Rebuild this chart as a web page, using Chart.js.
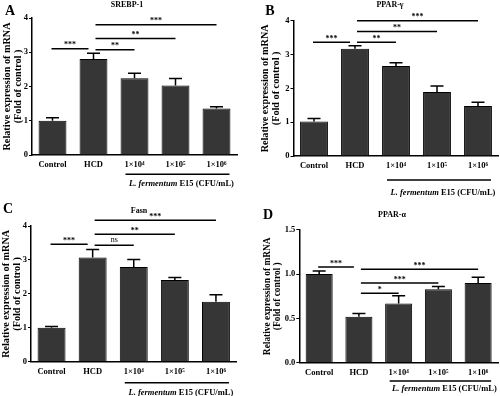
<!DOCTYPE html>
<html>
<head>
<meta charset="utf-8">
<script src="https://cdn.jsdelivr.net/npm/chart.js@4.4.1/dist/chart.umd.min.js"></script>
<style>
  body { margin: 0; background: #fff; width: 500px; height: 396px; position: relative; overflow: hidden; }
  canvas { position: absolute; }
</style>
</head>
<body>
<canvas id="chartA" width="250" height="198" style="left:0;top:0"></canvas>
<canvas id="chartB" width="250" height="198" style="left:250px;top:0"></canvas>
<canvas id="chartC" width="250" height="206" style="left:0;top:190px"></canvas>
<canvas id="chartD" width="250" height="206" style="left:250px;top:190px"></canvas>
<script>
const groups = ['Control', 'HCD', '1×10⁴', '1×10⁵', '1×10⁶'];

// SREBP-1
const srebpMean = [1.0, 2.8, 2.24, 2.03, 1.36];
const srebpErr = [0.09, 0.17, 0.15, 0.2, 0.05];
const srebpSig = [[0, 1, 3.1, '***'], [1, 2, 3.07, '**'], [1, 3, 3.4, '**'], [1, 4, 3.8, '***']];

// PPAR-gamma
const ppargMean = [1.02, 3.17, 2.66, 1.89, 1.48];
const ppargErr = [0.09, 0.09, 0.1, 0.18, 0.11];
const ppargSig = [[0, 1, 3.36, '***'], [1, 2, 3.36, '**'], [1, 3, 3.68, '**'], [1, 4, 4.0, '***']];

// Fasn
const fasnMean = [1.0, 3.07, 2.79, 2.41, 1.77];
const fasnErr = [0.04, 0.24, 0.22, 0.07, 0.2];
const fasnSig = [[0, 1, 3.46, '***'], [1, 2, 3.43, 'ns'], [1, 3, 3.76, '**'], [1, 4, 4.17, '***']];

// PPAR-alpha
const pparaMean = [1.0, 0.52, 0.667, 0.83, 0.9];
const pparaErr = [0.035, 0.035, 0.088, 0.03, 0.065];
const pparaSig = [[0, 1, 1.08, '***'], [1, 2, 0.785, '*'], [1, 3, 0.9, '***'], [1, 4, 1.056, '***']];

const serif = "'Liberation Serif', 'Times New Roman', serif";
const groupText = ['L. fermentum', ' E15 (CFU/mL)'];

// error bars, significance lines, letters, titles, group label
const extras = {
  id: 'extras',
  afterDatasetsDraw(chart, args, p) {
    const ctx = chart.ctx;
    const meta = chart.getDatasetMeta(0);
    const ys = chart.scales.y;
    const ds = chart.data.datasets[0];
    ctx.save();
    ctx.strokeStyle = '#000';
    ctx.fillStyle = '#000';
    ctx.lineWidth = 1.5;
    // error bars (upper only)
    meta.data.forEach((bar, i) => {
      const y0 = ys.getPixelForValue(ds.data[i]);
      const y1 = ys.getPixelForValue(ds.data[i] + p.err[i]);
      ctx.beginPath();
      ctx.moveTo(bar.x, y0);
      ctx.lineTo(bar.x, y1);
      ctx.moveTo(bar.x - 6.5, y1);
      ctx.lineTo(bar.x + 6.5, y1);
      ctx.stroke();
    });
    // significance lines
    ctx.textAlign = 'center';
    ctx.textBaseline = 'middle';
    p.sig.forEach(s => {
      let x0 = meta.data[s[0]].x + (s[0] === 1 ? 2 : -1);
      let x1 = meta.data[s[1]].x - (s[1] === 1 ? 5 : 0);
      const y = ys.getPixelForValue(s[2]);
      ctx.beginPath();
      ctx.moveTo(x0, y);
      ctx.lineTo(x1, y);
      ctx.stroke();
      ctx.font = (s[3] === 'ns' ? '' : 'bold ') + '8px ' + serif;
      ctx.fillText(s[3], (x0 + x1) / 2, y - (s[3] === 'ns' ? 5 : 3.5));
    });
    // group underline
    const gx0 = meta.data[2].x - 9;
    const gx1 = meta.data[4].x + 13;
    ctx.beginPath();
    ctx.moveTo(gx0, p.groupY);
    ctx.lineTo(gx1, p.groupY);
    ctx.stroke();
    ctx.font = 'italic bold 8.5px ' + serif;
    const w0 = ctx.measureText(groupText[0]).width;
    ctx.font = 'bold 8.5px ' + serif;
    const w1 = ctx.measureText(groupText[1]).width;
    let lx = (gx0 + gx1) / 2 + 4 - (w0 + w1) / 2;
    ctx.textAlign = 'left';
    ctx.font = 'italic bold 8.5px ' + serif;
    ctx.fillText(groupText[0], lx, p.labelY);
    ctx.font = 'bold 8.5px ' + serif;
    ctx.fillText(groupText[1], lx + w0, p.labelY);
    // panel letter and title
    ctx.textAlign = 'center';
    ctx.font = 'bold 14px ' + serif;
    ctx.fillText(p.letter, p.letterX, p.letterY);
    ctx.font = 'bold 8px ' + serif;
    ctx.fillText(p.title, p.titleX, p.titleY);
    ctx.restore();
  }
};

function drawPanel(id, p) {
  const cv = document.getElementById(id);
  const W = cv.width, H = cv.height;
  return new Chart(cv, {
    type: 'bar',
    data: {
      labels: groups,
      datasets: [{
        data: p.mean,
        backgroundColor: '#363636',
        borderColor: '#000',
        borderWidth: 1,
        barPercentage: 0.68,
        categoryPercentage: 1
      }]
    },
    options: {
      responsive: false,
      animation: false,
      devicePixelRatio: 1,
      layout: { padding: { left: 0, top: p.area.top, right: W - p.area.right, bottom: H - p.area.bottom - 14 } },
      plugins: {
        legend: { display: false },
        tooltip: { enabled: false },
        extras: p
      },
      scales: {
        x: {
          grid: { display: false, drawTicks: false },
          border: { color: '#000', width: 1.5 },
          ticks: { color: '#000', padding: 5, maxRotation: 0, autoSkip: false, font: { family: serif, weight: 'bold', size: 8.5 } },
          afterFit: s => { s.height = 14; }
        },
        y: {
          min: 0,
          max: p.max,
          grid: { display: true, drawOnChartArea: false, drawTicks: true, tickLength: 3, color: '#000', lineWidth: 1 },
          border: { color: '#000', width: 1.5 },
          ticks: {
            stepSize: p.step, color: '#000', padding: 1,
            font: { family: serif, weight: 'bold', size: 8.5 },
            callback: v => p.step < 1 ? v.toFixed(1) : v
          },
          title: {
            display: true,
            text: ['Relative expression of mRNA', '(Fold of control )'],
            color: '#000',
            padding: { top: p.titlePad, bottom: 0 },
            font: { family: serif, weight: 'bold', size: p.titleSize, lineHeight: 1.1 }
          },
          afterFit: s => { s.width = p.area.left; }
        }
      }
    },
    plugins: [extras]
  });
}

drawPanel('chartA', {
  mean: srebpMean, err: srebpErr, sig: srebpSig, max: 4, step: 1,
  area: { left: 32, right: 237, top: 18, bottom: 155 },
  titlePad: 1.5, titleSize: 10.2, groupY: 174.3, labelY: 183.3,
  letter: 'A', letterX: 10, letterY: 11.5, title: 'SREBP-1', titleX: 127, titleY: 5
});
drawPanel('chartB', {
  mean: ppargMean, err: ppargErr, sig: ppargSig, max: 4, step: 1,
  area: { left: 43.5, right: 248.5, top: 20.7, bottom: 156 },
  titlePad: 10, titleSize: 10.2, groupY: 180, labelY: 193,
  letter: 'B', letterX: 20, letterY: 11.7, title: 'PPAR-γ', titleX: 140, titleY: 5
});
drawPanel('chartC', {
  mean: fasnMean, err: fasnErr, sig: fasnSig, max: 4, step: 1,
  area: { left: 31, right: 236.5, top: 36, bottom: 171.7 },
  titlePad: 1, titleSize: 10.2, groupY: 192.7, labelY: 202.7,
  letter: 'C', letterX: 8, letterY: 19.5, title: 'Fasn', titleX: 139, titleY: 21
});
drawPanel('chartD', {
  mean: pparaMean, err: pparaErr, sig: pparaSig, max: 1.5, step: 0.5,
  area: { left: 49.3, right: 248, top: 39.8, bottom: 172.7 },
  titlePad: 12, titleSize: 9.4, groupY: 191, labelY: 199,
  letter: 'D', letterX: 18, letterY: 25, title: 'PPAR-α', titleX: 142, titleY: 25
});
</script>
</body>
</html>
